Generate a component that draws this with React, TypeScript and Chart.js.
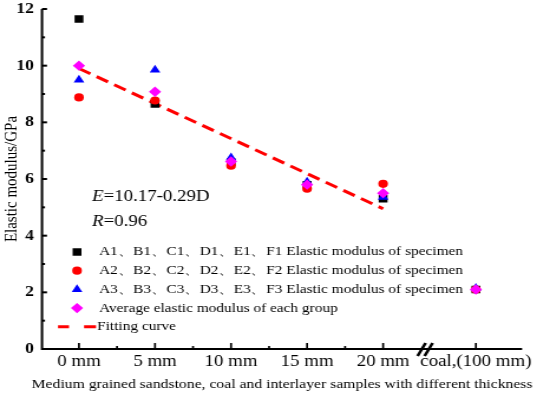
import React, { useEffect, useRef } from 'react';
import { Chart, registerables } from 'chart.js';
import { drawPoint } from 'chart.js/helpers';

Chart.register(...registerables);

// ---------- data ----------
const categories = ['0 mm', '5 mm', '10 mm', '15 mm', '20 mm', 'coal,(100 mm)'];
const categoryPos = [0, 5, 10, 15, 20, 26.1];
const minorXTicks = [2.5, 7.5, 12.5, 17.5];
const breakPos = 22.76;
const series1 = [11.65, 8.65, 6.6, 5.8, 5.3, 2.1];
const series2 = [8.88, 8.77, 6.47, 5.66, 5.83, 2.1];
const series3 = [9.5, 9.85, 6.75, 5.9, 5.36, 2.15];
const series4 = [10.0, 9.08, 6.62, 5.8, 5.5, 2.1];
const fitX = [0, 20];
const fitY = [9.9, 4.95];
const yMajorTicks = [0, 2, 4, 6, 8, 10, 12];
const yMinorTicks = [1, 3, 5, 7, 9, 11];
const legendLabels = [
  'A1、B1、C1、D1、E1、F1 Elastic modulus of specimen',
  'A2、B2、C2、D2、E2、F2 Elastic modulus of specimen',
  'A3、B3、C3、D3、E3、F3 Elastic modulus of specimen',
  'Average elastic modulus of each group',
  'Fitting curve',
];
const equationLines = [
  { italic: 'E', rest: '=10.17-0.29D' },
  { italic: 'R', rest: '=0.96' },
];
const yTitle = 'Elastic modulus/GPa';
const xTitle = 'Medium grained sandstone, coal and interlayer samples with different thickness';

// ---------- geometry ----------
const S = 1.18; // horizontal stretch of the reference picture
const W = Math.round(550 / S);
const H = 396;
const SERIF = '"Liberation Serif", "Times New Roman", serif';

const pts = (vals: number[]) => vals.map((v, i) => ({ x: categoryPos[i], y: v }));

const styles = [
  { color: '#000000', pointStyle: 'rect', radius: 5.3 },
  { color: '#ff0000', pointStyle: 'circle', radius: 4.1 },
  { color: '#0000ff', pointStyle: 'triangle', radius: 5.2 },
  { color: '#ff00ff', pointStyle: 'rectRot', radius: 5.2 },
];

const overlay = {
  id: 'overlay',
  afterDraw(chart: any) {
    const { ctx, chartArea: a, scales } = chart;
    const x = scales.x;
    const y = scales.y;
    ctx.save();
    ctx.strokeStyle = '#000';
    ctx.lineCap = 'butt';
    // axes
    ctx.lineWidth = 2;
    ctx.beginPath();
    ctx.moveTo(a.left, a.top);
    ctx.lineTo(a.left, a.bottom);
    ctx.lineTo(a.right, a.bottom);
    ctx.stroke();
    // y ticks (inward)
    ctx.lineWidth = 2;
    yMajorTicks.forEach((v) => {
      const py = y.getPixelForValue(v);
      ctx.beginPath();
      ctx.moveTo(a.left, py);
      ctx.lineTo(a.left + 5 / S, py);
      ctx.stroke();
    });
    yMinorTicks.forEach((v) => {
      const py = y.getPixelForValue(v);
      ctx.beginPath();
      ctx.moveTo(a.left, py);
      ctx.lineTo(a.left + 3 / S, py);
      ctx.stroke();
    });
    // x ticks (inward)
    ctx.lineWidth = 2 / S;
    categoryPos.forEach((v) => {
      const px = x.getPixelForValue(v);
      ctx.beginPath();
      ctx.moveTo(px, a.bottom);
      ctx.lineTo(px, a.bottom - 6);
      ctx.stroke();
    });
    minorXTicks.forEach((v) => {
      const px = x.getPixelForValue(v);
      ctx.beginPath();
      ctx.moveTo(px, a.bottom);
      ctx.lineTo(px, a.bottom - 3);
      ctx.stroke();
    });
    // axis break
    const bx = x.getPixelForValue(breakPos);
    ctx.lineWidth = 2.6;
    [-3.5 / S, 3.5 / S].forEach((off) => {
      ctx.beginPath();
      ctx.moveTo(bx + off - 4 / S, a.bottom + 7);
      ctx.lineTo(bx + off + 4 / S, a.bottom - 6);
      ctx.stroke();
    });

    // equation
    ctx.fillStyle = '#000';
    ctx.textBaseline = 'middle';
    ctx.textAlign = 'left';
    equationLines.forEach((ln, i) => {
      const ty = 197 + i * 25;
      let tx = a.left + 50 / S;
      ctx.font = `italic 16px ${SERIF}`;
      ctx.fillText(ln.italic, tx, ty);
      tx += ctx.measureText(ln.italic).width;
      ctx.font = `16px ${SERIF}`;
      ctx.fillText(ln.rest, tx, ty);
    });

    // legend
    const symX = a.left + 35 / S;
    const txtX = a.left + 57 / S;
    legendLabels.forEach((label, i) => {
      const ry = 252 + i * 18.7;
      if (i < 4) {
        const st = styles[i];
        ctx.fillStyle = st.color;
        ctx.strokeStyle = st.color;
        drawPoint(ctx, { pointStyle: st.pointStyle, radius: st.radius, rotation: 0, borderWidth: 0 } as any, symX, ry);
      } else {
        ctx.strokeStyle = '#ff0000';
        ctx.lineWidth = 3;
        ctx.beginPath();
        ctx.moveTo(a.left + 16 / S, ry);
        ctx.lineTo(a.left + 27 / S, ry);
        ctx.moveTo(a.left + 42 / S, ry);
        ctx.lineTo(a.left + 54 / S, ry);
        ctx.stroke();
      }
      ctx.fillStyle = '#000';
      ctx.font = `13px ${SERIF}`;
      ctx.textBaseline = 'middle';
      ctx.fillText(label, i < 4 ? txtX : a.left + 55 / S, ry);
    });

    // axis titles
    ctx.font = `15px ${SERIF}`;
    ctx.textAlign = 'center';
    ctx.save();
    ctx.translate(12 / S, (a.top + a.bottom) / 2);
    ctx.rotate(-Math.PI / 2);
    ctx.fillText(yTitle, 0, 0);
    ctx.restore();
    ctx.font = `13.3px ${SERIF}`;
    ctx.fillText(xTitle, (a.left + a.right) / 2 + 0 / S, 385);
    ctx.restore();
  },
};

export default function App() {
  const ref = useRef<HTMLCanvasElement>(null);
  useEffect(() => {
    if (!ref.current) return;
    const chart = new Chart(ref.current, {
      type: 'scatter',
      data: {
        datasets: [
          {
            type: 'line',
            label: 'Fitting curve',
            data: fitX.map((v, i) => ({ x: v, y: fitY[i] })),
            borderColor: '#ff0000',
            borderWidth: 3,
            borderDash: [11, 6],
            pointRadius: 0,
            fill: false,
            order: 5,
          } as any,
          ...[series1, series2, series3, series4].map((s, i) => ({
            label: legendLabels[i],
            data: pts(s),
            pointStyle: styles[i].pointStyle,
            pointRadius: styles[i].radius,
            pointBackgroundColor: styles[i].color,
            pointBorderColor: styles[i].color,
            pointBorderWidth: 0,
            backgroundColor: styles[i].color,
            borderColor: styles[i].color,
            order: 4 - i,
          })),
        ],
      },
      options: {
        responsive: false,
        animation: false,
        devicePixelRatio: 1,
        layout: { padding: { top: 9, right: W - 522 / S, left: 0, bottom: 0 } },
        plugins: { legend: { display: false }, tooltip: { enabled: false } },
        scales: {
          x: {
            type: 'linear',
            min: -2.43,
            max: 29.14,
            grid: { display: false, drawTicks: false },
            border: { display: false },
            afterBuildTicks: (scale: any) => {
              scale.ticks = categoryPos.map((v) => ({ value: v }));
            },
            afterFit: (scale: any) => {
              scale.height = 47;
              scale.paddingLeft = 0;
              scale.paddingRight = 0;
            },
            ticks: {
              autoSkip: false,
              maxRotation: 0,
              minRotation: 0,
              padding: 3,
              color: '#000',
              font: { family: SERIF, size: 16 },
              callback: (_v: any, i: number) => categories[i],
            },
          },
          y: {
            type: 'linear',
            min: 0,
            max: 12,
            grid: { display: false, drawTicks: false },
            border: { display: false },
            afterBuildTicks: (scale: any) => {
              scale.ticks = yMajorTicks.map((v) => ({ value: v }));
            },
            afterFit: (scale: any) => {
              scale.width = 42 / S;
              scale.paddingTop = 0;
              scale.paddingBottom = 0;
            },
            ticks: {
              padding: 8 / S,
              color: '#000',
              font: { family: SERIF, size: 15, weight: 'bold' },
            },
          },
        },
      },
      plugins: [overlay],
    });
    return () => chart.destroy();
  }, []);
  return (
    <div style={{ position: 'absolute', left: 0, top: 0, width: 550, height: H, background: '#fff' }}>
      <canvas ref={ref} width={W} height={H} style={{ width: '550px', height: `${H}px`, display: 'block' }} />
    </div>
  );
}
